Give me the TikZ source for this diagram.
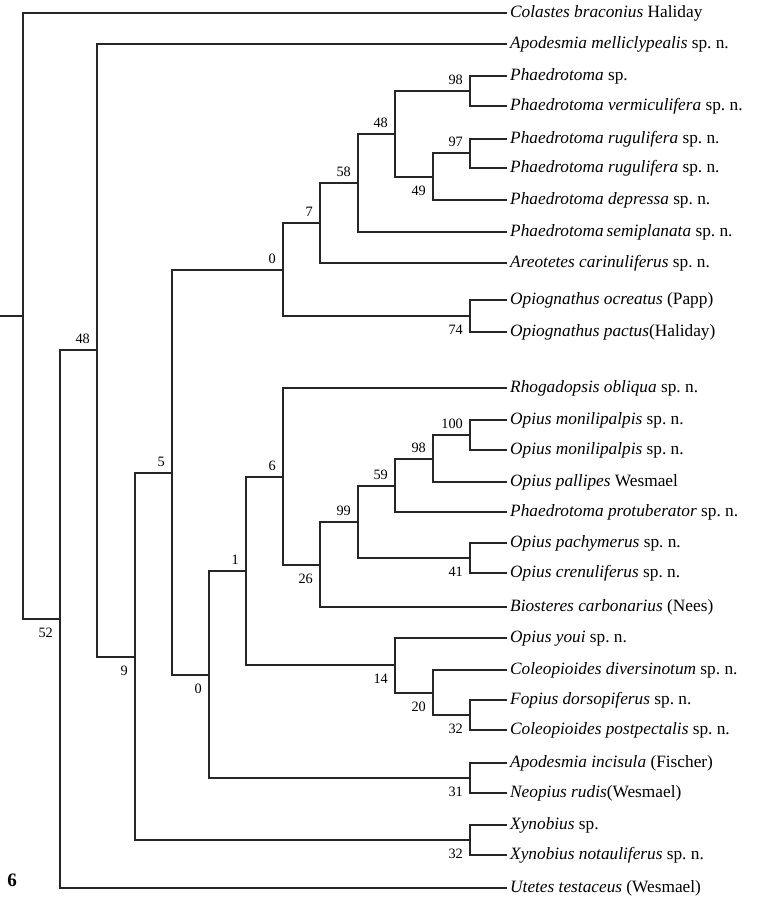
\documentclass[tikz,border=0pt]{standalone}
\usepackage{fontspec}
\setmainfont{Liberation Serif}
\frenchspacing
\begin{document}
\frenchspacing
\begin{tikzpicture}[x=1pt,y=-1pt,
  branch/.style={line width=1.2pt, draw=black!85},
  leaf/.style={anchor=west, inner xsep=3pt, inner ysep=0pt, text height=12pt, text depth=3.6pt, font=\fontsize{17.3}{17.3}\selectfont},
  supa/.style={anchor=base east, inner sep=0pt, font=\fontsize{14.3}{14.3}\selectfont},
  figlabel/.style={inner sep=0pt, font=\fontsize{19}{19}\selectfont\bfseries}]
\useasboundingbox (0,0) rectangle (756,899);
% leaves
\node[leaf] (l1) at (507,13) {\textit{Colastes braconius} Haliday};
\node[leaf] (l2) at (507,44) {\textit{Apodesmia melliclypealis} sp. n.};
\node[leaf] (l3) at (507,76) {\textit{Phaedrotoma} sp.};
\node[leaf] (l4) at (507,106) {\textit{Phaedrotoma vermiculifera} sp. n.};
\node[leaf] (l5) at (507,139) {\textit{Phaedrotoma rugulifera} sp. n.};
\node[leaf] (l6) at (507,168) {\textit{Phaedrotoma rugulifera} sp. n.};
\node[leaf] (l7) at (507,200) {\textit{Phaedrotoma depressa} sp. n.};
\node[leaf] (l8) at (507,232) {\textit{Phaedrotoma\,semiplanata} sp. n.};
\node[leaf] (l9) at (507,263) {\textit{Areotetes carinuliferus} sp. n.};
\node[leaf] (l10) at (507,300) {\textit{Opiognathus ocreatus} (Papp)};
\node[leaf] (l11) at (507,332) {\textit{Opiognathus pactus}(Haliday)};
\node[leaf] (l12) at (507,388) {\textit{Rhogadopsis obliqua} sp. n.};
\node[leaf] (l13) at (507,420) {\textit{Opius monilipalpis} sp. n.};
\node[leaf] (l14) at (507,450) {\textit{Opius monilipalpis} sp. n.};
\node[leaf] (l15) at (507,482) {\textit{Opius pallipes} Wesmael};
\node[leaf] (l16) at (507,512) {\textit{Phaedrotoma protuberator} sp. n.};
\node[leaf] (l17) at (507,543) {\textit{Opius pachymerus} sp. n.};
\node[leaf] (l18) at (507,573) {\textit{Opius crenuliferus} sp. n.};
\node[leaf] (l19) at (507,607) {\textit{Biosteres carbonarius} (Nees)};
\node[leaf] (l20) at (507,638) {\textit{Opius youi} sp. n.};
\node[leaf] (l21) at (507,670) {\textit{Coleopioides diversinotum} sp. n.};
\node[leaf] (l22) at (507,700) {\textit{Fopius dorsopiferus} sp. n.};
\node[leaf] (l23) at (507,730) {\textit{Coleopioides postpectalis} sp. n.};
\node[leaf] (l24) at (507,763) {\textit{Apodesmia incisula} (Fischer)};
\node[leaf] (l25) at (507,793) {\textit{Neopius rudis}(Wesmael)};
\node[leaf] (l26) at (507,825) {\textit{Xynobius} sp.};
\node[leaf] (l27) at (507,855) {\textit{Xynobius notauliferus} sp. n.};
\node[leaf] (l28) at (507,888) {\textit{Utetes testaceus} (Wesmael)};
% internal nodes
\coordinate (stub) at (0,316);
\coordinate (root) at (23,316);
\coordinate (n52) at (60,619);
\coordinate (n48) at (97,350);
\coordinate (n9) at (135,657);
\coordinate (n5) at (172,473);
\coordinate (n0a) at (283,270);
\coordinate (n7) at (320,223);
\coordinate (n58) at (358,183);
\coordinate (n48b) at (395,134);
\coordinate (n98a) at (470,91);
\coordinate (n49) at (433,177);
\coordinate (n97) at (470,153);
\coordinate (nO) at (470,316);
\coordinate (n0b) at (209,675);
\coordinate (n1) at (246,571);
\coordinate (n6) at (283,477);
\coordinate (n26) at (320,565);
\coordinate (n99) at (358,522);
\coordinate (n59) at (395,486);
\coordinate (n98b) at (433,459);
\coordinate (n100) at (470,435);
\coordinate (n41) at (470,558);
\coordinate (n14) at (395,665);
\coordinate (n20) at (433,693);
\coordinate (n32) at (470,715);
\coordinate (nA) at (470,778);
\coordinate (nX) at (470,840);
% branches
\draw[branch] (stub) -- (root);
\draw[branch] (root) |- (l1.west);
\draw[branch] (root) |- (n52);
\draw[branch] (n52) |- (n48);
\draw[branch] (n52) |- (l28.west);
\draw[branch] (n48) |- (l2.west);
\draw[branch] (n48) |- (n9);
\draw[branch] (n9) |- (n5);
\draw[branch] (n9) |- (nX);
\draw[branch] (n5) |- (n0a);
\draw[branch] (n5) |- (n0b);
\draw[branch] (n0a) |- (n7);
\draw[branch] (n0a) |- (nO);
\draw[branch] (n7) |- (n58);
\draw[branch] (n7) |- (l9.west);
\draw[branch] (n58) |- (n48b);
\draw[branch] (n58) |- (l8.west);
\draw[branch] (n48b) |- (n98a);
\draw[branch] (n48b) |- (n49);
\draw[branch] (n98a) |- (l3.west);
\draw[branch] (n98a) |- (l4.west);
\draw[branch] (n49) |- (n97);
\draw[branch] (n49) |- (l7.west);
\draw[branch] (n97) |- (l5.west);
\draw[branch] (n97) |- (l6.west);
\draw[branch] (nO) |- (l10.west);
\draw[branch] (nO) |- (l11.west);
\draw[branch] (n0b) |- (n1);
\draw[branch] (n0b) |- (nA);
\draw[branch] (n1) |- (n6);
\draw[branch] (n1) |- (n14);
\draw[branch] (n6) |- (l12.west);
\draw[branch] (n6) |- (n26);
\draw[branch] (n26) |- (n99);
\draw[branch] (n26) |- (l19.west);
\draw[branch] (n99) |- (n59);
\draw[branch] (n99) |- (n41);
\draw[branch] (n59) |- (n98b);
\draw[branch] (n59) |- (l16.west);
\draw[branch] (n98b) |- (n100);
\draw[branch] (n98b) |- (l15.west);
\draw[branch] (n100) |- (l13.west);
\draw[branch] (n100) |- (l14.west);
\draw[branch] (n41) |- (l17.west);
\draw[branch] (n41) |- (l18.west);
\draw[branch] (n14) |- (l20.west);
\draw[branch] (n14) |- (n20);
\draw[branch] (n20) |- (l21.west);
\draw[branch] (n20) |- (n32);
\draw[branch] (n32) |- (l22.west);
\draw[branch] (n32) |- (l23.west);
\draw[branch] (nA) |- (l24.west);
\draw[branch] (nA) |- (l25.west);
\draw[branch] (nX) |- (l26.west);
\draw[branch] (nX) |- (l27.west);
% support values above
\node[supa] (s48) at ([shift={(-7,-6.5)}]n48) {48};
\node[supa] (s5) at ([shift={(-7,-6.5)}]n5) {5};
\node[supa] (s0a) at ([shift={(-7,-6.5)}]n0a) {0};
\node[supa] (s7) at ([shift={(-7,-6.5)}]n7) {7};
\node[supa] (s58) at ([shift={(-7,-6.5)}]n58) {58};
\node[supa] (s48b) at ([shift={(-7,-6.5)}]n48b) {48};
\node[supa] (s98a) at ([shift={(-7,-6.5)}]n98a) {98};
\node[supa] (s97) at ([shift={(-7,-6.5)}]n97) {97};
\node[supa] (s1) at ([shift={(-7,-6.5)}]n1) {1};
\node[supa] (s6) at ([shift={(-7,-6.5)}]n6) {6};
\node[supa] (s99) at ([shift={(-7,-6.5)}]n99) {99};
\node[supa] (s59) at ([shift={(-7,-6.5)}]n59) {59};
\node[supa] (s98b) at ([shift={(-7,-6.5)}]n98b) {98};
\node[supa] (s100) at ([shift={(-7,-6.5)}]n100) {100};
% support values below
\node[supa] (s52) at ([shift={(-7,18.5)}]n52) {52};
\node[supa] (s9) at ([shift={(-7,18.5)}]n9) {9};
\node[supa] (s0b) at ([shift={(-7,18.5)}]n0b) {0};
\node[supa] (s49) at ([shift={(-7,18.5)}]n49) {49};
\node[supa] (s74) at ([shift={(-7,18.5)}]nO) {74};
\node[supa] (s26) at ([shift={(-7,18.5)}]n26) {26};
\node[supa] (s41) at ([shift={(-7,18.5)}]n41) {41};
\node[supa] (s14) at ([shift={(-7,18.5)}]n14) {14};
\node[supa] (s20) at ([shift={(-7,18.5)}]n20) {20};
\node[supa] (s32a) at ([shift={(-7,18.5)}]n32) {32};
\node[supa] (s31) at ([shift={(-7,18.5)}]nA) {31};
\node[supa] (s32b) at ([shift={(-7,18.5)}]nX) {32};
% figure label
\node[figlabel] (fig) at (12,880) {6};
\end{tikzpicture}
\end{document}
